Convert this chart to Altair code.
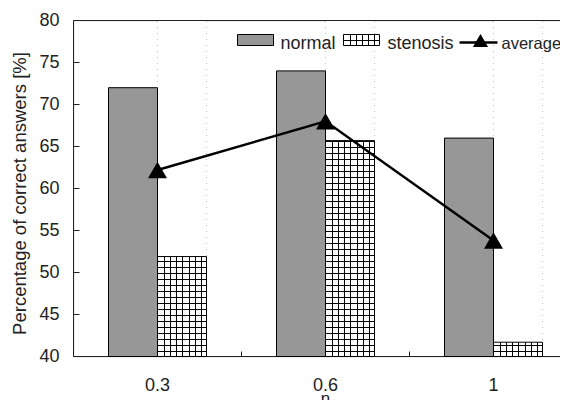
import altair as alt
import pandas as pd

categories = ["0.3", "0.6", "1"]
series_names = ["normal", "stenosis"]
normal = [72.0, 74.0, 66.0]
stenosis = [51.9, 65.7, 41.7]
average = [62.2, 68.0, 53.8]
y_ticks = [40, 45, 50, 55, 60, 65, 70, 75, 80]
legend_labels = ["normal", "stenosis", "average"]

FONT = "Liberation Sans"
W, H = 486.5, 336
STEP = 168.0          # px per category slot
BARW = 49.0 / STEP    # bar width, in category units
GAP = (1 - 2 * BARW) / 2

bars = pd.DataFrame({
    "cat": categories * 2,
    "series": ["normal"] * 3 + ["stenosis"] * 3,
    "value": normal + stenosis,
})
bars["top"] = y_ticks[-1]
bars["base"] = y_ticks[0]

seg_rows = []
for c in categories:
    for lo, hi in zip(y_ticks[:-1], y_ticks[1:]):
        seg_rows.append({"cat": c, "series": "stenosis", "lo": lo, "hi": hi})
segs = pd.DataFrame(seg_rows)

avg_df = pd.DataFrame({"cat": categories, "value": average})
tick_df = pd.DataFrame({"v": y_ticks})
bound_df = pd.DataFrame({"cat": categories[1:]})
one = pd.DataFrame({"k": [0]})

cat_list = "[" + ",".join(f"'{c}'" for c in categories) + "]"
ser_list = "[" + ",".join(f"'{s}'" for s in series_names) + "]"


def slot(chart):
    return chart.transform_calculate(
        ci=f"indexof({cat_list}, datum.cat)",
        si=f"indexof({ser_list}, datum.series)",
    ).transform_calculate(
        x0=f"datum.ci + {GAP} + datum.si * {BARW}",
        x1=f"datum.ci + {GAP} + (datum.si + 1) * {BARW}",
        xc="datum.ci + 0.5",
        xb="datum.ci",
    )


x_scale = alt.Scale(domain=[0, W / STEP], zero=False, nice=False)
y_scale = alt.Scale(domain=[40, 80], zero=False, nice=False)

x_axis = alt.Axis(title="η", values=[0.5, 1.5, 2.5], labelExpr=f"{cat_list}[floor(datum.value)]",
                  ticks=False, grid=False, labelFontSize=18, labelPadding=20, labelAngle=0,
                  labelFlush=False, labelOverlap=False,
                  domainColor="#222", labelColor="#222", titleFontSize=17, titleFontWeight="normal",
                  titleX=252, titleY=47, titleBaseline="alphabetic", titleColor="#222")
y_axis = alt.Axis(title="Percentage of correct answers [%]", values=y_ticks, ticks=False, grid=False,
                  labelFontSize=18, labelPadding=14, domainColor="#222", labelColor="#222",
                  titleFontSize=18.5, titleFontWeight="normal", titleX=-54, titleY=173,
                  titleBaseline="middle", titleColor="#222")


def X(field):
    return alt.X(field, type="quantitative", scale=x_scale, axis=x_axis)


def Y(field):
    return alt.Y(field, type="quantitative", scale=y_scale, axis=y_axis)


CLEAR = "rgba(0,0,0,0)"


def lines_at(pixels, length, color="black"):
    """gradient stops drawing 1px lines starting at the given pixel offsets"""
    stops = [alt.GradientStop(offset=0, color=CLEAR)]
    for p in pixels:
        a = (p + 0.5) / length
        b = (p + 1.5) / length
        stops += [
            alt.GradientStop(offset=a, color=CLEAR),
            alt.GradientStop(offset=a, color=color),
            alt.GradientStop(offset=b, color=color),
            alt.GradientStop(offset=b, color=CLEAR),
        ]
    stops.append(alt.GradientStop(offset=1, color=CLEAR))
    return stops


seg_px = H / (len(y_ticks) - 1)  # 42 px per 5 units
vgrad = alt.LinearGradient(gradient="linear",
                           stops=lines_at([round(49 * j / 8) for j in range(1, 8)], 49),
                           x1=0, x2=1, y1=0, y2=0)
hgrad = alt.LinearGradient(gradient="linear",
                           stops=lines_at([6 * j for j in range(7)], seg_px),
                           x1=0, x2=0, y1=0, y2=1)

base = slot(alt.Chart(bars))
sten = base.transform_filter(alt.datum.series == "stenosis")
norm = base.transform_filter(alt.datum.series == "normal")

sten_bg = sten.mark_rect(fill="white", strokeWidth=0).encode(
    x=X("x0"), x2="x1", y=Y("top"), y2="base")
sten_h = slot(alt.Chart(segs)).mark_rect(fill=hgrad, strokeWidth=0).encode(
    x=X("x0"), x2="x1", y=Y("hi"), y2="lo")
sten_cover = sten.mark_rect(fill="white", strokeWidth=0).encode(
    x=X("x0"), x2="x1", y=Y("value"), y2="top")
sten_v = sten.mark_rect(fill=vgrad, stroke="black", strokeWidth=1).encode(
    x=X("x0"), x2="x1", y=Y("value"), y2="base")
norm_bars = norm.mark_rect(fill="#979797", stroke="black", strokeWidth=1).encode(
    x=X("x0"), x2="x1", y=Y("value"), y2="base")

avg_base = slot(alt.Chart(avg_df).transform_calculate(series="'normal'"))
avg_line = avg_base.mark_line(color="black", strokeWidth=2.5).encode(
    x=X("xc"), y=Y("value"))
avg_pts = avg_base.mark_point(shape="triangle-up", filled=True, size=360,
                              color="black", opacity=1).encode(x=X("xc"), y=Y("value"))

yticks = alt.Chart(tick_df).mark_rule(color="#222").encode(
    y=Y("v"), x=alt.value(0), x2=alt.value(6))
xticks = slot(alt.Chart(bound_df).transform_calculate(series="'normal'")).mark_rule(color="#222").encode(
    x=X("xb"), y=alt.value(H - 5), y2=alt.value(H))
top_rule = alt.Chart(one).mark_rule(color="#222").encode(
    x=alt.value(0), x2=alt.value(W), y=alt.value(0))

# legend
lg = alt.Chart(one)
LFS = 18
LX = 164
leg_norm = lg.mark_rect(fill="#979797", stroke="black", strokeWidth=1).encode(
    x=alt.value(LX), x2=alt.value(LX + 36), y=alt.value(14), y2=alt.value(25))
leg_norm_t = lg.mark_text(align="left", baseline="alphabetic", fontSize=LFS, font=FONT, color="#222").encode(
    x=alt.value(LX + 43), y=alt.value(28), text=alt.value(legend_labels[0]))
SX = 270
leg_sten_bg = lg.mark_rect(fill="white").encode(
    x=alt.value(SX), x2=alt.value(SX + 36), y=alt.value(14), y2=alt.value(25))
leg_sten_h = lg.mark_rect(fill=alt.LinearGradient(gradient="linear", stops=lines_at([5], 11),
                                                  x1=0, x2=0, y1=0, y2=1)).encode(
    x=alt.value(SX), x2=alt.value(SX + 36), y=alt.value(14), y2=alt.value(25))
leg_sten_v = lg.mark_rect(fill=alt.LinearGradient(gradient="linear",
                                                  stops=lines_at([6, 12, 18, 24, 30], 36),
                                                  x1=0, x2=1, y1=0, y2=0),
                          stroke="black", strokeWidth=1).encode(
    x=alt.value(SX), x2=alt.value(SX + 36), y=alt.value(14), y2=alt.value(25))
leg_sten_t = lg.mark_text(align="left", baseline="alphabetic", fontSize=LFS, font=FONT, color="#222").encode(
    x=alt.value(SX + 44), y=alt.value(28), text=alt.value(legend_labels[1]))
AX = 386
leg_avg_l = lg.mark_rule(color="black", strokeWidth=2.5).encode(
    x=alt.value(AX), x2=alt.value(AX + 38), y=alt.value(22))
leg_avg_p = lg.mark_point(shape="triangle-up", filled=True, size=230, color="black", opacity=1).encode(
    x=alt.value(AX + 21), y=alt.value(20))
leg_avg_t = lg.mark_text(align="left", baseline="alphabetic", fontSize=16.5, font=FONT, color="#222").encode(
    x=alt.value(AX + 42), y=alt.value(28), text=alt.value(legend_labels[2]))

chart = alt.layer(
    sten_bg, sten_h, sten_cover, sten_v, norm_bars, yticks, xticks, top_rule,
    avg_line, avg_pts,
    leg_norm, leg_norm_t, leg_sten_bg, leg_sten_h, leg_sten_v, leg_sten_t,
    leg_avg_l, leg_avg_p, leg_avg_t,
).properties(
    width=W, height=H,
    autosize=alt.AutoSizeParams(type="none"),
    padding={"left": 65.5, "top": 12.5, "right": 0, "bottom": 43.5},
).configure_view(stroke=None).configure(font=FONT).configure_axis(
    labelFont=FONT, titleFont=FONT, translate=0)

chart.save("out.html", embed_options={"renderer": "svg", "actions": False})
